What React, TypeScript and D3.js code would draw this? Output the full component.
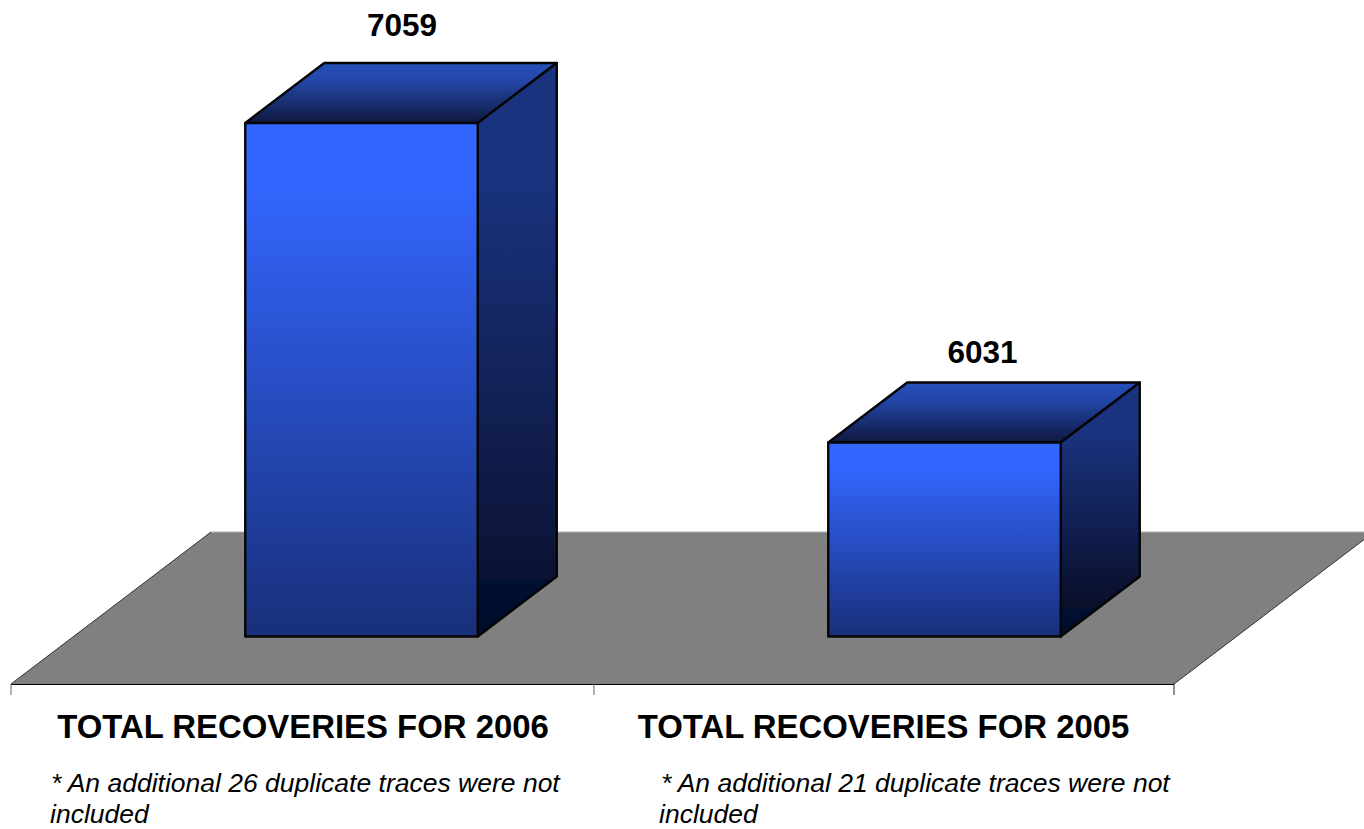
import React from "react";
import * as d3 from "d3";

const categories = ["TOTAL RECOVERIES FOR 2006", "TOTAL RECOVERIES FOR 2005"];
const values = [7059, 6031];
const notes = [
  ["* An additional 26 duplicate traces were not", "included"],
  ["* An additional 21 duplicate traces were not", "included"],
];
const axisBase = 5407;
const axisTop = 7059;

const W = 1364;
const H = 829;
const FONT = "'Liberation Sans', Arial, sans-serif";

const band = d3.scaleBand<number>().domain([0, 1]).range([11, 1177]).paddingInner(0).paddingOuter(0);
const y = d3.scaleLinear().domain([axisBase, axisTop]).range([636.5, 123]);
const barW = 232.5;
const depthX = 79;
const depthY = 60;
const floorBack = 532;
const floorFront = 684;

const line = d3.line();

export default function App() {
  const ticks = [11, band(1)!, 1174];
  const floor = line([
    [11, floorFront],
    [211, floorBack],
    [1374, floorBack],
    [1174, floorFront],
  ]) + "Z";
  return (
    <svg width={W} height={H} viewBox={`0 0 ${W} ${H}`} style={{ position: "absolute", left: 0, top: 0, background: "#fff" }}>
      <defs>
        <linearGradient id="front" x1="0" y1="0" x2="0" y2="1">
          <stop offset="0" stopColor="#3366ff" />
          <stop offset="0.12" stopColor="#3366ff" />
          <stop offset="1" stopColor="#182f79" />
        </linearGradient>
        <linearGradient id="top" x1="0" y1="0" x2="0" y2="1">
          <stop offset="0" stopColor="#264fbb" />
          <stop offset="0.3" stopColor="#2347a8" />
          <stop offset="1" stopColor="#0f1840" />
        </linearGradient>
        <linearGradient id="side0" x1="0" y1="0" x2="0" y2="1">
          <stop offset="0" stopColor="#1a337f" />
          <stop offset="0.2" stopColor="#1a337f" />
          <stop offset="0.9" stopColor="#0b1233" />
          <stop offset="0.902" stopColor="#001033" />
          <stop offset="1" stopColor="#000c28" />
        </linearGradient>
        <linearGradient id="side1" x1="0" y1="0" x2="0" y2="1">
          <stop offset="0" stopColor="#1a337f" />
          <stop offset="0.2" stopColor="#1a337f" />
          <stop offset="0.8" stopColor="#0b1233" />
          <stop offset="0.885" stopColor="#0a0f2a" />
          <stop offset="0.89" stopColor="#001033" />
          <stop offset="1" stopColor="#000c28" />
        </linearGradient>
      </defs>

      <path d={floor} fill="#808080" stroke="none" />
      <line x1={211} y1={floorBack} x2={1364} y2={floorBack} stroke="#b0b0b0" strokeWidth={1} />
      <line x1={11} y1={floorFront} x2={211} y2={floorBack} stroke="#333" strokeWidth={1} />
      <line x1={1174} y1={floorFront} x2={1374} y2={floorBack} stroke="#333" strokeWidth={1} />
      <line x1={11} y1={floorFront + 0.5} x2={1174} y2={floorFront + 0.5} stroke="#000" strokeWidth={1} />
      {ticks.map((t, i) => (
        <line key={i} x1={t} x2={t} y1={floorFront} y2={floorFront + 11} stroke={i === 2 ? "#222" : "#666"} strokeWidth={1} />
      ))}

      {values.map((v, i) => {
        const x0 = band(i)! + (band.bandwidth() - barW) / 2 + 59;
        const x1 = x0 + barW;
        const yt = y(v);
        const yb = y(axisBase);
        const top = line([[x0, yt], [x0 + depthX, yt - depthY], [x1 + depthX, yt - depthY], [x1, yt]]) + "Z";
        const side = line([[x1, yt], [x1 + depthX, yt - depthY], [x1 + depthX, yb - depthY], [x1, yb]]) + "Z";
        const front = line([[x0, yt], [x1, yt], [x1, yb], [x0, yb]]) + "Z";
        const stroke = { stroke: "#050505", strokeWidth: 2.4, strokeLinejoin: "round" as const };
        return (
          <g key={i}>
            <path d={top} fill="url(#top)" {...stroke} />
            <path d={side} fill={`url(#side${i})`} {...stroke} />
            <path d={front} fill="url(#front)" {...stroke} />
            <text x={(x0 + x1) / 2 + (i === 0 ? 40.5 : 38)} y={yt - depthY - (i === 0 ? 27.5 : 19.5)} textAnchor="middle" fontFamily={FONT} fontWeight="bold" fontSize={31.5} fill="#000">{v}</text>
          </g>
        );
      })}

      {categories.map((c, i) => (
        <text key={c} x={band(i)! + band.bandwidth() / 2 + (i === 0 ? 0.5 : -2)} y={738} textAnchor="middle" fontFamily={FONT} fontWeight="bold" fontSize={32.9} fill="#000">{c}</text>
      ))}
      {notes.map((n, i) => n.map((l, j) => (
        <text key={l + i} x={i === 0 ? 50 + (j === 0 ? 1 : 0) : 659 + (j === 0 ? 2 : 0)} y={792 + j * 31} fontFamily={FONT} fontStyle="italic" fontSize={26.5} fill="#000">{l}</text>
      )))}
    </svg>
  );
}
